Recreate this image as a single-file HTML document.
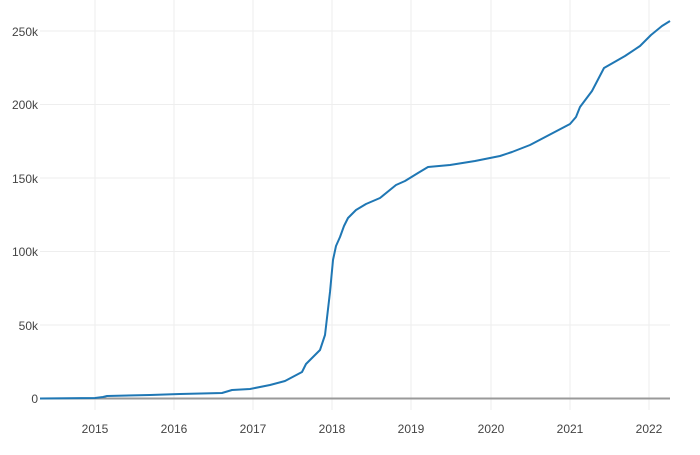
<!DOCTYPE html>
<html><head><style>body{margin:0;background:#fff}svg text{font-family:"Liberation Sans",sans-serif;font-size:12px;fill:#444}</style></head>
<body><svg width="700" height="450" xmlns="http://www.w3.org/2000/svg">
<g stroke="#eee" stroke-width="1">
<line x1="40" x2="670" y1="325" y2="325"/><line x1="40" x2="670" y1="251.5" y2="251.5"/><line x1="40" x2="670" y1="178" y2="178"/><line x1="40" x2="670" y1="104.5" y2="104.5"/><line x1="40" x2="670" y1="31" y2="31"/>
<line x1="95" x2="95" y1="0" y2="410"/><line x1="174" x2="174" y1="0" y2="410"/><line x1="253" x2="253" y1="0" y2="410"/><line x1="332" x2="332" y1="0" y2="410"/><line x1="411" x2="411" y1="0" y2="410"/><line x1="491" x2="491" y1="0" y2="410"/><line x1="570" x2="570" y1="0" y2="410"/><line x1="649" x2="649" y1="0" y2="410"/>
</g>
<line x1="40" x2="670" y1="398.5" y2="398.5" stroke="#999" stroke-width="2"/>
<g text-anchor="end"><text x="38" y="403">0</text><text x="38" y="330">50k</text><text x="38" y="256">100k</text><text x="38" y="183">150k</text><text x="38" y="109">200k</text><text x="38" y="36">250k</text></g>
<g text-anchor="middle"><text x="95" y="433">2015</text><text x="174" y="433">2016</text><text x="253" y="433">2017</text><text x="332" y="433">2018</text><text x="411" y="433">2019</text><text x="491" y="433">2020</text><text x="570" y="433">2021</text><text x="649" y="433">2022</text></g>
<polyline fill="none" stroke="#1f77b4" stroke-width="2" stroke-linejoin="round" points="40,398.5 95,398 103,397 107,396 150,395 180,394 222,393 232,390 250,389 270,385 285,381 302,372 306,364 320,350 325,335 330,292 333,260 336,246 340,237 344,226 348,218 356,210 366,204 380,198 396,185 405,181 418,173 428,167 450,165 475,161 500,156 512,152 530,145 570,124 576,117 580,107 592,91 604,68 625,56 640,46 651,35 662,26 670,21"/>
</svg></body></html>
